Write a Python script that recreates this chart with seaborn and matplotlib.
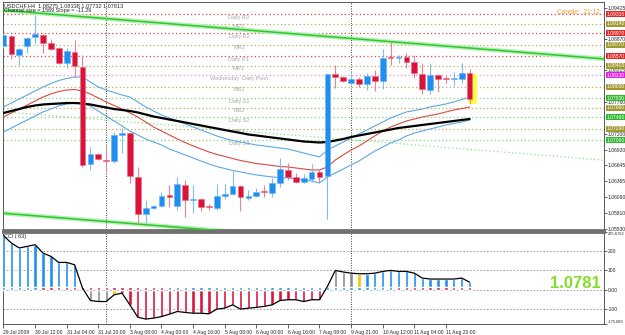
import matplotlib
matplotlib.use('Agg')
import matplotlib.pyplot as plt
import matplotlib.transforms as mtransforms
import numpy as np
import seaborn as sns

# USDCHF H4 candles, 29 Jul - 11 Aug 2009
opens = [1.08747, 1.08923, 1.08588, 1.08747, 1.08905, 1.08940, 1.08799, 1.08711, 1.08447, 1.08641,
         1.08376, 1.06667, 1.06844, 1.06729, 1.06720, 1.07178, 1.07214, 1.06438, 1.05786, 1.05892,
         1.05927, 1.06121, 1.05927, 1.06297, 1.06033, 1.06051, 1.05919, 1.05892, 1.06104, 1.06139,
         1.06280, 1.06068, 1.06104, 1.06192, 1.06156, 1.06333, 1.06562, 1.06438, 1.06350, 1.06403,
         1.06526, 1.06456, 1.08253, 1.08200, 1.08095, 1.08165, 1.08077, 1.08218, 1.08130, 1.08544,
         1.08535, 1.08553, 1.08465, 1.08253, 1.07971, 1.08236, 1.08174, 1.08165, 1.08165, 1.08275]
highs = [1.08976, 1.08940, 1.08711, 1.08905, 1.09293, 1.08958, 1.08870, 1.08729, 1.08711, 1.08852,
         1.08588, 1.06967, 1.06861, 1.07002, 1.07231, 1.07302, 1.07231, 1.06615, 1.06033, 1.05945,
         1.06174, 1.06297, 1.06438, 1.06385, 1.06297, 1.06068, 1.05963, 1.06315, 1.06315, 1.06544,
         1.06297, 1.06209, 1.06244, 1.06297, 1.06421, 1.06773, 1.06685, 1.06509, 1.06491, 1.06667,
         1.06579, 1.08253, 1.08412, 1.08218, 1.08271, 1.08200, 1.08271, 1.08324, 1.08694, 1.08817,
         1.08588, 1.08623, 1.08588, 1.08447, 1.08447, 1.08253, 1.08236, 1.08288, 1.08447, 1.08338]
lows = [1.08711, 1.08517, 1.08412, 1.08623, 1.08782, 1.08623, 1.08676, 1.08429, 1.08359, 1.08200,
        1.06615, 1.06562, 1.06738, 1.06526, 1.06685, 1.06861, 1.06333, 1.05610, 1.05628, 1.05874,
        1.05910, 1.05910, 1.05857, 1.05734, 1.05804, 1.05839, 1.05857, 1.05857, 1.06051, 1.06121,
        1.05839, 1.06033, 1.06086, 1.06086, 1.06086, 1.06262, 1.06385, 1.06333, 1.06333, 1.06350,
        1.06350, 1.05698, 1.08006, 1.08112, 1.08059, 1.08024, 1.07971, 1.07954, 1.07989, 1.08412,
        1.08447, 1.08359, 1.08183, 1.07901, 1.07901, 1.07936, 1.08095, 1.08042, 1.08095, 1.07732]
closes = [1.08940, 1.08606, 1.08694, 1.08887, 1.08958, 1.08799, 1.08694, 1.08447, 1.08658, 1.08394,
          1.06650, 1.06844, 1.06755, 1.06720, 1.07178, 1.07214, 1.06456, 1.05786, 1.05892, 1.05927,
          1.06104, 1.06086, 1.06315, 1.06033, 1.06051, 1.05910, 1.05910, 1.06104, 1.06139, 1.06280,
          1.06086, 1.06104, 1.06174, 1.06165, 1.06333, 1.06579, 1.06438, 1.06350, 1.06421, 1.06526,
          1.06438, 1.08253, 1.08200, 1.08130, 1.08165, 1.08077, 1.08218, 1.08130, 1.08535, 1.08535,
          1.08553, 1.08465, 1.08271, 1.07989, 1.08236, 1.08165, 1.08165, 1.08174, 1.08271, 1.07813]

ma_black = [1.07566, 1.07601, 1.07636, 1.07672, 1.07698, 1.07716, 1.07725, 1.07733, 1.07742, 1.07742,
            1.07733, 1.07716, 1.07689, 1.07663, 1.07636, 1.07619, 1.07601, 1.07575, 1.07540, 1.07504,
            1.07478, 1.07451, 1.07425, 1.07399, 1.07372, 1.07346, 1.07319, 1.07293, 1.07266, 1.07240,
            1.07214, 1.07187, 1.07170, 1.07152, 1.07134, 1.07117, 1.07099, 1.07081, 1.07064, 1.07055,
            1.07046, 1.07055, 1.07081, 1.07108, 1.07143, 1.07170, 1.07196, 1.07222, 1.07249, 1.07275,
            1.07302, 1.07319, 1.07337, 1.07355, 1.07372, 1.07390, 1.07407, 1.07425, 1.07443, 1.07460]
ma_red = [1.07495, 1.07566, 1.07636, 1.07707, 1.07777, 1.07848, 1.07901, 1.07945, 1.07971, 1.07980,
          1.07954, 1.07901, 1.07830, 1.07760, 1.07698, 1.07636, 1.07566, 1.07495, 1.07407, 1.07319,
          1.07249, 1.07178, 1.07108, 1.07046, 1.06985, 1.06932, 1.06879, 1.06835, 1.06800, 1.06764,
          1.06729, 1.06703, 1.06676, 1.06659, 1.06641, 1.06623, 1.06615, 1.06597, 1.06579, 1.06562,
          1.06562, 1.06615, 1.06738, 1.06826, 1.06914, 1.06985, 1.07073, 1.07161, 1.07249, 1.07319,
          1.07372, 1.07425, 1.07460, 1.07495, 1.07522, 1.07548, 1.07584, 1.07619, 1.07645, 1.07672]
band_upper = [1.07672, 1.07742, 1.07813, 1.07883, 1.07954, 1.08024, 1.08086, 1.08139, 1.08174, 1.08200,
              1.08200, 1.08112, 1.08024, 1.07971, 1.07927, 1.07883, 1.07848, 1.07760, 1.07672, 1.07601,
              1.07531, 1.07478, 1.07425, 1.07372, 1.07319, 1.07266, 1.07214, 1.07161, 1.07117, 1.07081,
              1.07055, 1.07029, 1.07002, 1.06985, 1.06967, 1.06949, 1.06932, 1.06896, 1.06861, 1.06826,
              1.06791, 1.06914, 1.06985, 1.07055, 1.07125, 1.07196, 1.07266, 1.07337, 1.07407, 1.07478,
              1.07531, 1.07584, 1.07610, 1.07636, 1.07672, 1.07698, 1.07725, 1.07760, 1.07804, 1.07848]
band_lower = [1.07231, 1.07302, 1.07372, 1.07443, 1.07513, 1.07584, 1.07636, 1.07689, 1.07725, 1.07742,
              1.07742, 1.07689, 1.07601, 1.07513, 1.07425, 1.07337, 1.07249, 1.07178, 1.07108, 1.07055,
              1.07002, 1.06932, 1.06879, 1.06826, 1.06773, 1.06720, 1.06667, 1.06623, 1.06588, 1.06553,
              1.06526, 1.06500, 1.06474, 1.06456, 1.06438, 1.06429, 1.06421, 1.06403, 1.06385, 1.06368,
              1.06333, 1.06438, 1.06509, 1.06579, 1.06650, 1.06720, 1.06808, 1.06896, 1.06967, 1.07037,
              1.07090, 1.07161, 1.07214, 1.07249, 1.07284, 1.07319, 1.07355, 1.07381, 1.07407, 1.07443]

# CCI(63)
cci = [277, 239, 214, 222, 231, 188, 171, 140, 140, 128,
       9, -55, -60, -60, -26, -17, -77, -140, -150, -145,
       -137, -125, -111, -116, -120, -120, -123, -99, -94, -77,
       -99, -94, -90, -85, -77, -55, -51, -51, -60, -51,
       -51, 17, 99, 91, 85, 82, 82, 85, 94, 99,
       94, 94, 85, 60, 55, 55, 55, 55, 60, 39]
cci_colors = (['b'] * 11 + ['g'] * 3 + ['y'] + ['r'] * 26 + ['g'] * 4 + ['y'] + ['b'] * 14)
cci_marks = ['b'] * 5 + ['r'] * 16 + ['b'] * 29 + ['r'] * 10

# regression channel (bar index, price)
channel_bars = [0, 76]
channel_top = [1.09376, 1.08519]
channel_mid = [1.07588, 1.06734]
channel_bottom = [1.05799, 1.04948]

level_names = ['Daily R3', 'MR3', 'Daily R2', 'MR2', 'Daily R1', 'MR1', 'Wednesday  Daily Pivot',
               'MS1', 'Daily S1', 'MS2', 'Daily S2', 'MS3', 'Daily S3']
level_prices = [1.09310, 1.09140, 1.08970, 1.08770, 1.08570, 1.08400, 1.08230,
                1.08030, 1.07830, 1.07660, 1.07490, 1.07290, 1.07090]
level_kinds = ['R', 'M', 'R', 'M', 'R', 'M', 'P', 'M', 'S', 'M', 'S', 'M', 'S']

# scale labels not hidden behind the level boxes
price_ticks = [1.09425, 1.08870, 1.08315, 1.07760, 1.07200, 1.06920,
               1.06645, 1.06365, 1.06090, 1.05810, 1.05530]
time_ticks = list(range(0, 57, 4))
time_labels = ['29 Jul 2009', '30 Jul 12:00', '31 Jul 04:00', '31 Jul 20:00', '3 Aug 08:00',
               '4 Aug 00:00', '4 Aug 16:00', '5 Aug 08:00', '6 Aug 00:00', '6 Aug 16:00',
               '7 Aug 08:00', '9 Aug 21:00', '10 Aug 12:00', '11 Aug 04:00', '11 Aug 20:00']
week_starts = [13, 44]
cci_ticks = [295.6762, 200, 100, 0, -100, -175.089]
cci_labels = ['295.6762', '200', '100', '0.00', '-100', '-175.089']

sns.set_style('white')
plt.rcParams['font.family'] = ['Liberation Sans Narrow', 'Liberation Sans', 'DejaVu Sans']

BLUE, RED = '#1e8ff0', '#d8143c'
cmap = {'b': BLUE, 'r': RED, 'g': '#8c8c8c', 'y': '#f5c400'}
line_col = {'R': '#d84848', 'M': '#b4b060', 'P': '#e68ce6', 'S': '#7cd47c'}
box_col = {'R': '#e02828', 'M': '#a09a30', 'P': '#e020e0', 'S': '#2eb82e'}

x = np.arange(len(opens))
o, h, l, c = map(np.array, (opens, highs, lows, closes))
up = c >= o

fig = plt.figure(figsize=(6.25, 3.35), dpi=100)
ax = fig.add_axes([3 / 625, 1 - 230 / 335, 601 / 625, 228 / 335])
ax2 = fig.add_axes([3 / 625, 1 - 324 / 335, 601 / 625, 92 / 335])

# ---- price panel ----
for p, k in zip(level_prices, level_kinds):
    ax.axhline(p, color=line_col[k], lw=0.9, ls=(0, (1, 2)), zorder=1)
for name, p in zip(level_names, level_prices):
    ax.text(29.8, p - 0.00012, name, fontsize=4, color='#a8a8a8', ha='center', va='top', zorder=2)

sns.lineplot(x=channel_bars, y=channel_top, ax=ax, color='#b8f0b8', lw=3.2, zorder=2)
sns.lineplot(x=channel_bars, y=channel_top, ax=ax, color='#2ec82e', lw=1.1, zorder=3)
sns.lineplot(x=channel_bars, y=channel_bottom, ax=ax, color='#b8f0b8', lw=3.2, zorder=2)
sns.lineplot(x=channel_bars, y=channel_bottom, ax=ax, color='#2ec82e', lw=1.1, zorder=3)
ax.plot(channel_bars, channel_mid, color='#8ee08e', lw=0.9, ls=(0, (1, 2)), zorder=2)

sns.lineplot(x=x, y=band_upper, ax=ax, color='#5ea8e0', lw=0.8, zorder=3)
sns.lineplot(x=x, y=band_lower, ax=ax, color='#5ea8e0', lw=0.8, zorder=3)
sns.lineplot(x=x, y=ma_red, ax=ax, color='#d84a40', lw=0.8, zorder=3)
sns.lineplot(x=x, y=ma_black, ax=ax, color='black', lw=1.6, zorder=4)

# highlight of the running candle
ax.bar(x[-1] + 0.3, o[-1] - l[-1], bottom=l[-1], width=1.25, color='#ffff30', zorder=4)

ax.vlines(x, l, h, colors=np.where(up, '#80bcee', '#ec8094'), lw=0.8, zorder=5)
body = np.maximum(np.abs(c - o), 0.00012)
ax.bar(x, body, bottom=np.minimum(o, c), width=0.72,
       color=np.where(up, BLUE, RED), edgecolor=np.where(up, '#6ab2f2', '#e86a82'),
       lw=0.4, zorder=6)

for w in week_starts:
    ax.axvline(w, color='#404040', lw=0.7, ls=(0, (1, 1.5)), zorder=2)
    ax2.axvline(w, color='#404040', lw=0.7, ls=(0, (1, 1.5)), zorder=2)

ax.set_xlim(-0.06, 76.01)
ax.set_ylim(1.05504, 1.09522)
ax.set_xticks([])
ax.yaxis.tick_right()
ax.set_yticks(price_ticks)
ax.set_yticklabels([f'{t:.5f}' for t in price_ticks])
ax.tick_params(axis='y', labelsize=3.6, length=2, pad=0.8, width=0.5)
ax.set_xlabel('')
ax.set_ylabel('')

tr = mtransforms.blended_transform_factory(ax.transAxes, ax.transData)
for p, k in zip(level_prices, level_kinds):
    ax.text(1.004, p, f'{p:.5f}', transform=tr, fontsize=3.6, color='white', ha='left',
            va='center', clip_on=False, zorder=10,
            bbox=dict(boxstyle='square,pad=0.12', fc=box_col[k], ec='none'))

ax.text(0.002, 0.983, 'USDCHF,H4  1.08275 1.08338 1.07732 1.07813', transform=ax.transAxes,
        fontsize=4, va='center', ha='left', zorder=10)
ax.text(0.002, 0.962, 'Channel size = 1569 Slope = -11.29', transform=ax.transAxes,
        fontsize=4, va='center', ha='left', zorder=10)
ax.text(0.958, 0.952, 'Candle:  21:12', transform=ax.transAxes, fontsize=4.8,
        color='#f0a030', ha='center', va='center')

for s in ax.spines.values():
    s.set_color('#404040')
    s.set_linewidth(0.6)
ax.spines['bottom'].set_color('#707070')
ax.spines['bottom'].set_linewidth(2)

# ---- CCI panel ----
for g in [200, 100, 0, -100]:
    ax2.axhline(g, color='#909090', lw=0.6, ls=(0, (2, 2)), zorder=1)
ax2.bar(x, cci, width=0.42, color=[cmap[k] for k in cci_colors], zorder=3)
ax2.bar(x, 15, width=0.42, color=[cmap[k] for k in cci_marks], zorder=4)
sns.lineplot(x=x, y=cci, ax=ax2, color='black', lw=0.9, zorder=5)

ax2.set_xlim(-0.06, 76.01)
ax2.set_ylim(-175.089, 295.6762)
ax2.yaxis.tick_right()
ax2.set_yticks(cci_ticks)
ax2.set_yticklabels(cci_labels)
ax2.set_xticks(time_ticks)
ax2.set_xticklabels(time_labels, ha='left')
ax2.tick_params(axis='y', labelsize=3.6, length=2, pad=0.8, width=0.5)
ax2.tick_params(axis='x', labelsize=3.6, length=3, pad=1, width=0.5, direction='out', bottom=True)
ylabs = ax2.get_yticklabels()
ylabs[0].set_va('top')
ylabs[0].set_fontsize(2.9)
ylabs[-1].set_va('bottom')
ylabs[-1].set_fontsize(2.9)
ax2.set_xlabel('')
ax2.set_ylabel('')
for s in ax2.spines.values():
    s.set_color('#404040')
    s.set_linewidth(0.6)
ax2.spines['top'].set_color('#707070')
ax2.spines['top'].set_linewidth(2)

ax2.text(0.002, 0.955, 'CCI ( 63)', transform=ax2.transAxes, fontsize=4, va='center', ha='left')
ax2.text(0.9526, 0.435, '1.0781', transform=ax2.transAxes, fontsize=12, fontweight='bold',
         family=['Liberation Sans', 'DejaVu Sans'], color='#84dc2a', ha='center', va='center')

fig.savefig('out.png', dpi=100)
